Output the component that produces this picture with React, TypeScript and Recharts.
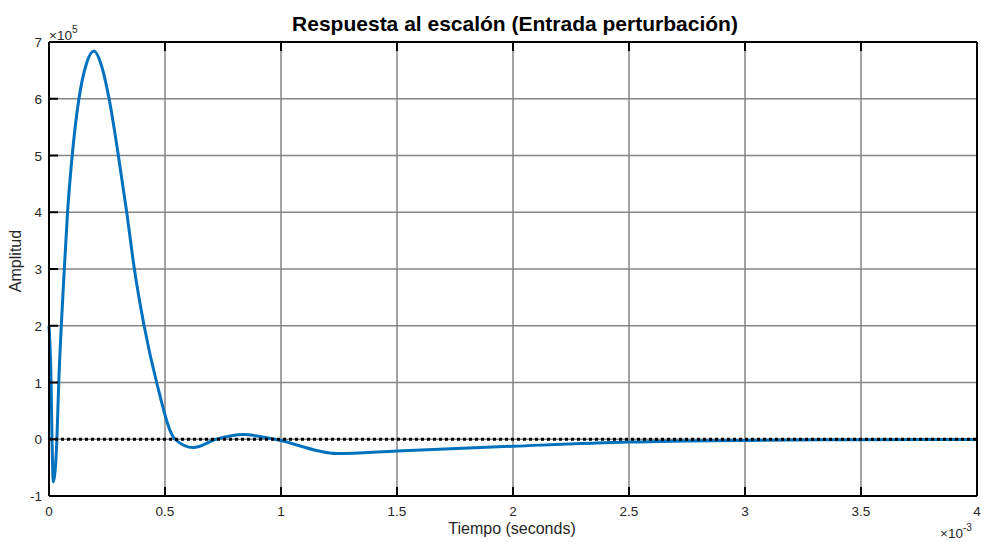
import { LineChart, Line, CartesianGrid, XAxis, YAxis, ReferenceLine } from "recharts";

// time in ms (axis shows x10^-3 s), amplitude in units of 1e5
const tiempo = [
  0, 0.009, 0.013, 0.0185, 0.034, 0.042, 0.053, 0.066, 0.08, 0.1, 0.129, 0.16, 0.194, 0.225,
  0.259, 0.299, 0.335, 0.368, 0.41, 0.464, 0.543, 0.622, 0.72, 0.838, 0.974, 1.24, 1.5, 2,
  2.5, 3, 3.5, 4,
];
const amplitud = [
  2, 1, 0, -0.75, 0, 1, 2, 3, 4, 5, 6, 6.6, 6.84, 6.6,
  6, 5, 4, 3, 2, 1, 0, -0.146, 0, 0.083, 0, -0.25, -0.205, -0.123,
  -0.05, -0.02, -0.008, -0.003,
];
const xTicks = [0, 0.5, 1, 1.5, 2, 2.5, 3, 3.5, 4];
const yTicks = [-1, 0, 1, 2, 3, 4, 5, 6, 7];

const data = tiempo.map((t, i) => ({ t, y: amplitud[i] }));

const W = 982;
const H = 542;
const FONT = "'Liberation Sans', Arial, Helvetica, sans-serif";
const TICK_LEN = 9;
const TEXT = "#262626";

function BottomTick({ x, y, payload }: any) {
  return (
    <g>
      <line x1={x} y1={y} x2={x} y2={y - TICK_LEN} stroke="#000" strokeWidth={2} />
      <text x={x} y={y + 20} textAnchor="middle" fontSize={13.5} fontFamily={FONT} fill={TEXT}>
        {String(payload.value)}
      </text>
    </g>
  );
}

function TopTick({ x, y }: any) {
  return <line x1={x} y1={y} x2={x} y2={y + TICK_LEN} stroke="#000" strokeWidth={2} />;
}

function LeftTick({ x, y, payload }: any) {
  return (
    <g>
      <line x1={x} y1={y} x2={x + TICK_LEN} y2={y} stroke="#000" strokeWidth={2} />
      <text x={x - 7} y={y + 5} textAnchor="end" fontSize={13.5} fontFamily={FONT} fill={TEXT}>
        {String(payload.value)}
      </text>
    </g>
  );
}

function RightTick({ x, y }: any) {
  return <line x1={x} y1={y} x2={x - TICK_LEN} y2={y} stroke="#000" strokeWidth={2} />;
}

const axisLine = { stroke: "#000", strokeWidth: 2 };

export default function App() {
  return (
    <div style={{ position: "absolute", left: 0, top: 0, width: W, height: H, background: "#fff" }}>
      <LineChart width={W} height={H} data={data} margin={{ top: 0, right: 0, left: 0, bottom: 0 }}>
        <CartesianGrid stroke="#858585" strokeWidth={1.5} />
        <XAxis
          xAxisId={0}
          dataKey="t"
          type="number"
          domain={[0, 4]}
          ticks={xTicks}
          height={46}
          tickSize={0}
          tickMargin={0}
          tickLine={false}
          tick={<BottomTick />}
          axisLine={axisLine}
          interval={0}
        />
        <XAxis
          xAxisId={1}
          orientation="top"
          dataKey="t"
          type="number"
          domain={[0, 4]}
          ticks={xTicks}
          height={42}
          tickSize={0}
          tickMargin={0}
          tickLine={false}
          tick={<TopTick />}
          axisLine={axisLine}
          interval={0}
        />
        <YAxis
          yAxisId={0}
          type="number"
          domain={[-1, 7]}
          ticks={yTicks}
          width={49}
          tickSize={0}
          tickMargin={0}
          tickLine={false}
          tick={<LeftTick />}
          axisLine={axisLine}
          interval={0}
        />
        <YAxis
          yAxisId={1}
          orientation="right"
          type="number"
          domain={[-1, 7]}
          ticks={yTicks}
          width={5}
          tickSize={0}
          tickMargin={0}
          tickLine={false}
          tick={<RightTick />}
          axisLine={axisLine}
          interval={0}
        />
        <Line
          xAxisId={0}
          yAxisId={0}
          type="monotone"
          dataKey="y"
          stroke="#0072BD"
          strokeWidth={3}
          dot={false}
          isAnimationActive={false}
        />
        <ReferenceLine xAxisId={0} yAxisId={0} y={0} stroke="#000" strokeWidth={3} strokeDasharray="3 3" />
      </LineChart>
      <svg
        width={W}
        height={H}
        style={{ position: "absolute", left: 0, top: 0, pointerEvents: "none" }}
        fontFamily={FONT}
      >
        <text x={515} y={31} textAnchor="middle" fontSize={21} fontWeight="bold" fill="#000">
          Respuesta al escalón (Entrada perturbación)
        </text>
        <text x={512} y={534} textAnchor="middle" fontSize={16} fill={TEXT}>
          Tiempo (seconds)
        </text>
        <text transform="translate(21,261) rotate(-90)" textAnchor="middle" fontSize={16} fill={TEXT}>
          Amplitud
        </text>
        <text x={49} y={40} fontSize={13.5} fill={TEXT}>
          ×10<tspan dy={-7} fontSize={10}>5</tspan>
        </text>
        <text x={940} y={538} fontSize={13.5} fill={TEXT}>
          ×10<tspan dy={-7} fontSize={10}>-3</tspan>
        </text>
      </svg>
    </div>
  );
}
